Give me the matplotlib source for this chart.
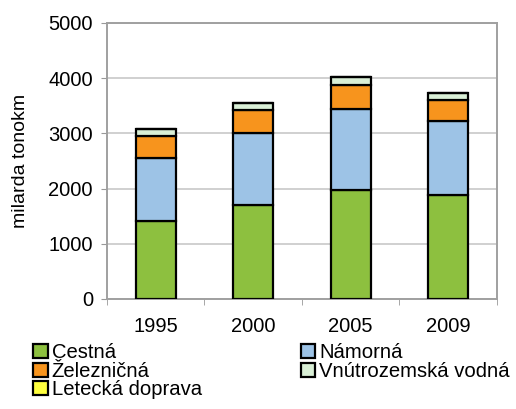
import numpy as np
import matplotlib.pyplot as plt

plt.rcParams['font.family'] = ['Liberation Sans', 'DejaVu Sans']

years = ['1995', '2000', '2005', '2009']
cestna = [1420, 1700, 1980, 1890]
namorna = [1130, 1300, 1460, 1340]
zeleznicna = [410, 420, 440, 380]
vnutrozemska = [120, 130, 135, 120]
letecka = [2, 3, 3, 2]

series = [
    ('Cestná', cestna, '#8dc03f'),
    ('Námorná', namorna, '#9dc3e6'),
    ('Železničná', zeleznicna, '#f7941d'),
    ('Vnútrozemská vodná', vnutrozemska, '#d9efd6'),
    ('Letecká doprava', letecka, '#ffff3f'),
]

fig = plt.figure(figsize=(5.16, 4.09), dpi=100)
ax = fig.add_axes([0.207, 0.269, 0.756, 0.675])

x = np.arange(len(years))
bottom = np.zeros(len(years))
bars = {}
for name, vals, color in series:
    bars[name] = ax.bar(x, vals, width=0.41, bottom=bottom, color=color,
                        edgecolor='black', linewidth=1.6, label=name, zorder=3)
    bottom += np.array(vals)

ax.set_xlim(-0.5, len(years) - 0.5)
ax.set_ylim(0, 5000)
ax.set_yticks(range(0, 5001, 1000))
ax.set_xticks(x)
ax.set_xticklabels(years)
ax.set_xticks(np.arange(-0.5, len(years)), minor=True)
ax.tick_params(axis='x', which='major', length=0, pad=13, labelsize=14.5)
ax.tick_params(axis='x', which='minor', length=4, color='#999999', direction='out')
ax.tick_params(axis='y', length=4, color='#999999', labelsize=14.5, pad=6)
ax.yaxis.grid(True, color='#c8c8c8', linewidth=1.2, zorder=0)
for side in ax.spines.values():
    side.set_color('#a0a0a0')
    side.set_linewidth(1.4)
ax.set_ylabel('milarda tonokm', fontsize=14, labelpad=14)

order = ['Cestná', 'Železničná', 'Letecká doprava', 'Námorná', 'Vnútrozemská vodná']
fig.legend([bars[n] for n in order], order, ncol=2, loc='upper left',
           bbox_to_anchor=(0.045, 0.185), frameon=False, fontsize=14.6,
           handlelength=0.7, handleheight=0.7, handletextpad=0.2,
           labelspacing=-0.03, columnspacing=4.9, borderpad=0)

fig.savefig('out.png', dpi=100)
